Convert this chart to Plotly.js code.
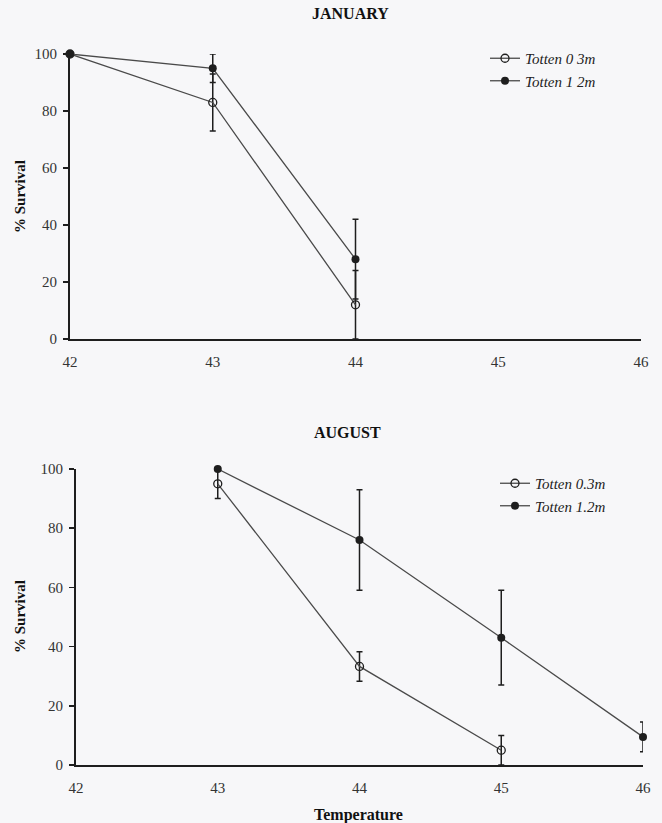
<!DOCTYPE html>
<html>
<head>
<meta charset="utf-8">
<script src="https://cdn.plot.ly/plotly-3.0.1.min.js"></script>
<style>html,body{margin:0;padding:0;background:#f7f7f9;}</style>
</head>
<body>
<div id="chart" style="width:662px;height:823px;"></div>
<script>
// ---- data ----
const janTemps = [42, 43, 44];
const janShallow = [100, 83, 12];
const janShallowErr = [null, 10, 12];
const janDeep = [100, 95, 28];
const janDeepErr = [null, 5, 14];

const augShallowTemps = [43, 44, 45];
const augShallow = [95, 33.3, 5];
const augShallowErr = [5, 5, 5];
const augDeepTemps = [43, 44, 45, 46];
const augDeep = [100, 76, 43, 9.5];
const augDeepErr = [null, 17, 16, 5];

const janNames = ['Totten 0 3m', 'Totten 1 2m'];
const augNames = ['Totten 0.3m', 'Totten 1.2m'];
const xTicks = [42, 43, 44, 45, 46];
const yTicks = [0, 20, 40, 60, 80, 100];

const serif = "'Liberation Serif', 'Times New Roman', serif";
const lineCol = '#4a4a4a';
const inkCol = '#1e1e1e';

function trace(x, y, err, name, filled, xa, ya, leg) {
  return {
    x: x, y: y, name: name, type: 'scatter', mode: 'lines+markers',
    xaxis: xa, yaxis: ya, legend: leg, cliponaxis: false,
    line: {color: lineCol, width: 1.3},
    marker: filled
      ? {symbol: 'circle', size: 8, color: inkCol}
      : {symbol: 'circle-open', size: 8, color: inkCol, line: {width: 1.3, color: inkCol}},
    error_y: {type: 'data', array: err, visible: true, color: inkCol, thickness: 1.5, width: 3}
  };
}

const data = [
  trace(janTemps, janShallow, janShallowErr, janNames[0], false, 'x', 'y', 'legend'),
  trace(janTemps, janDeep, janDeepErr, janNames[1], true, 'x', 'y', 'legend'),
  trace(augShallowTemps, augShallow, augShallowErr, augNames[0], false, 'x2', 'y2', 'legend2'),
  trace(augDeepTemps, augDeep, augDeepErr, augNames[1], true, 'x2', 'y2', 'legend2')
];

const W = 662, H = 823;
const tickFont = {family: serif, size: 15, color: '#333'};
function xAxis(d0, d1, anchor) {
  return {domain: [d0 / W, d1 / W], range: [42, 46], anchor: anchor,
    showline: true, linecolor: inkCol, linewidth: 2, showgrid: false, zeroline: false,
    ticks: '', tickvals: xTicks, tickfont: tickFont, ticklabelstandoff: 8, fixedrange: true};
}
function yAxis(top, bottom, anchor) {
  return {domain: [1 - bottom / H, 1 - top / H], range: [0, 100], anchor: anchor,
    showline: true, linecolor: inkCol, linewidth: 2, showgrid: false, zeroline: false,
    ticks: 'outside', ticklen: 5, tickwidth: 1.5, tickcolor: inkCol,
    tickvals: yTicks, tickfont: tickFont, ticklabelstandoff: 3, fixedrange: true};
}
function legendAt(xpx, ypx) {
  return {x: xpx / W, y: 1 - ypx / H, xanchor: 'left', yanchor: 'top',
    bgcolor: 'rgba(0,0,0,0)', borderwidth: 0, itemwidth: 30, tracegroupgap: 0,
    font: {family: serif, size: 15, style: 'italic', color: '#222'}};
}
function ann(text, xpx, ypx, size, angle) {
  return {text: text, x: xpx / W, y: 1 - ypx / H, xref: 'paper', yref: 'paper',
    xanchor: 'center', yanchor: 'middle', showarrow: false, textangle: angle || 0,
    font: {family: serif, size: size, color: '#111', weight: 'bold'}};
}

const layout = {
  width: W, height: H,
  margin: {l: 0, r: 0, t: 0, b: 0},
  paper_bgcolor: '#f7f7f9', plot_bgcolor: '#f7f7f9',
  showlegend: true,
  xaxis: xAxis(70, 641, 'y'),
  yaxis: yAxis(54, 339, 'x'),
  xaxis2: xAxis(76, 643, 'y2'),
  yaxis2: yAxis(469, 765, 'x2'),
  legend: legendAt(485, 42),
  legend2: legendAt(495, 467),
  annotations: [
    ann('JANUARY', 350, 14, 16),
    ann('AUGUST', 348, 432, 16),
    ann('Temperature', 358, 815, 16),
    ann('% Survival', 20, 197, 15, -90),
    ann('% Survival', 20, 617, 15, -90)
  ]
};

Plotly.newPlot('chart', data, layout, {displayModeBar: false, staticPlot: true});
</script>
</body>
</html>
